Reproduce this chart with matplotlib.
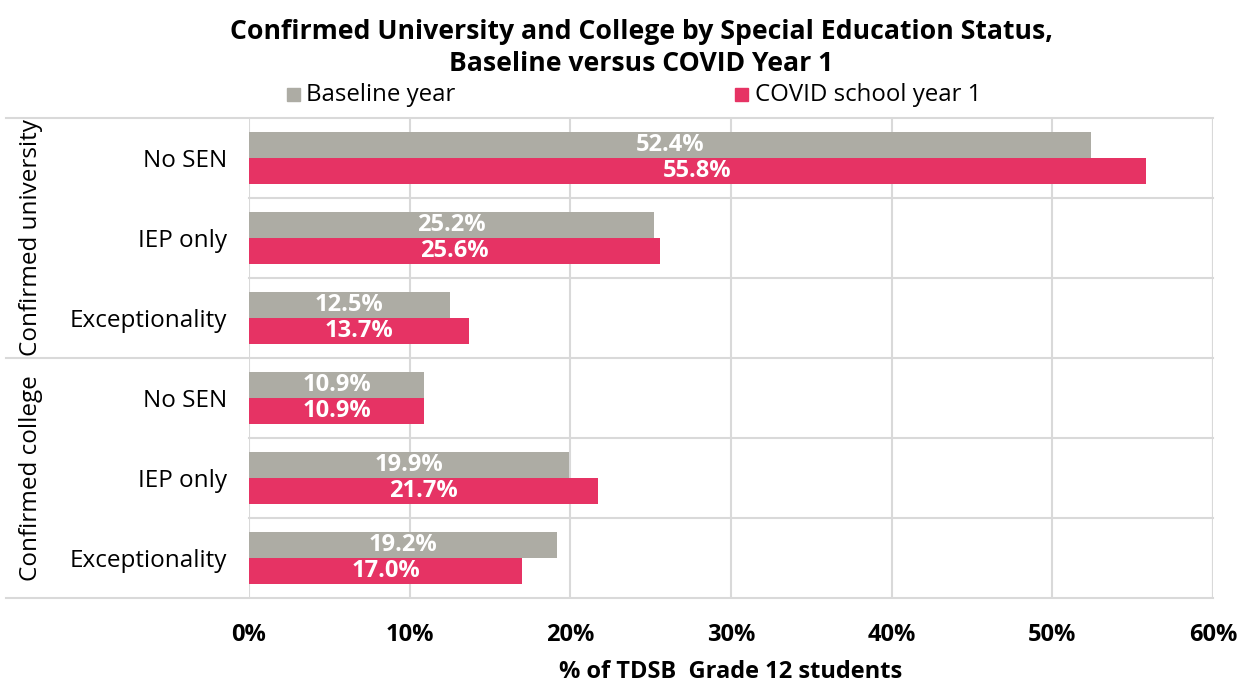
import matplotlib
matplotlib.use("Agg")
import matplotlib.pyplot as plt
import matplotlib.transforms as mtransforms
from matplotlib.patches import Rectangle

plt.rcParams["font.family"] = ["Open Sans", "Noto Sans", "DejaVu Sans"]

# Data
groups = ["Confirmed university", "Confirmed college"]
categories = ["No SEN", "IEP only", "Exceptionality",
              "No SEN", "IEP only", "Exceptionality"]
baseline = [52.4, 25.2, 12.5, 10.9, 19.9, 19.2]
covid = [55.8, 25.6, 13.7, 10.9, 21.7, 17.0]
series_names = ["Baseline year", "COVID school year 1"]
xticks = [0, 10, 20, 30, 40, 50, 60]

GRAY = "#adaca4"
PINK = "#e63364"
GRID = "#d9d9d9"


def main():
    fig = plt.figure(figsize=(12.43, 6.85), dpi=100)
    ax = fig.add_axes([0.2003, 0.127, 0.7756, 0.7007])

    n = len(categories)
    ypos = list(range(n))
    h = 0.32
    ax.barh([y - h / 2 for y in ypos], baseline, height=h, color=GRAY, zorder=3)
    ax.barh([y + h / 2 for y in ypos], covid, height=h, color=PINK, zorder=3)

    for y, b, c in zip(ypos, baseline, covid):
        ax.text(b / 2, y - h / 2, f"{b:.1f}%", color="white", fontsize=17,
                fontweight="bold", ha="center", va="center", zorder=4)
        ax.text(c / 2, y + h / 2, f"{c:.1f}%", color="white", fontsize=17,
                fontweight="bold", ha="center", va="center", zorder=4)

    ax.set_xlim(0, 60)
    ax.set_ylim(n - 0.5, -0.5)
    ax.set_xticks(xticks)
    ax.set_xticklabels([f"{t}%" for t in xticks], fontsize=17, fontweight="bold")
    ax.set_yticks(ypos)
    ax.set_yticklabels(categories, fontsize=17.5)
    ax.tick_params(axis="both", length=0)
    ax.tick_params(axis="y", pad=16)
    ax.tick_params(axis="x", pad=18)
    ax.set_xlabel("% of TDSB  Grade 12 students", fontsize=17,
                  fontweight="bold", labelpad=9)

    ax.grid(axis="x", color=GRID, linewidth=1.5, zorder=0)
    for s in ax.spines.values():
        s.set_visible(False)
    ax.axvline(60, color=GRID, linewidth=1.5, zorder=0)

    # row separators
    trans = mtransforms.blended_transform_factory(ax.transAxes, ax.transData)
    for k in range(n + 1):
        yb = k - 0.5
        x0 = -0.252 if k % 3 == 0 else 0
        ax.plot([x0, 1], [yb, yb], transform=trans, color=GRID,
                linewidth=1.5, clip_on=False, zorder=1)

    # group labels
    for i, g in enumerate(groups):
        ax.text(-0.226, 1 + 3 * i, g, transform=trans, rotation=90,
                fontsize=17.5, ha="center", va="center")

    fig.text(0.516, 0.953, "Confirmed University and College by Special Education Status,",
             fontsize=19.2, fontweight="bold", ha="center", va="center")
    fig.text(0.516, 0.906, "Baseline versus COVID Year 1",
             fontsize=19.2, fontweight="bold", ha="center", va="center")

    # legend
    for xs, col, name in [(0.2305, GRAY, series_names[0]), (0.5915, PINK, series_names[1])]:
        fig.patches.append(Rectangle((xs, 0.852), 0.0105, 0.019, color=col,
                                     transform=fig.transFigure, figure=fig))
        fig.text(xs + 0.0155, 0.862, name, fontsize=17.3, ha="left", va="center")

    fig.savefig("out.png", dpi=100)
    plt.close(fig)


if __name__ == "__main__":
    main()
